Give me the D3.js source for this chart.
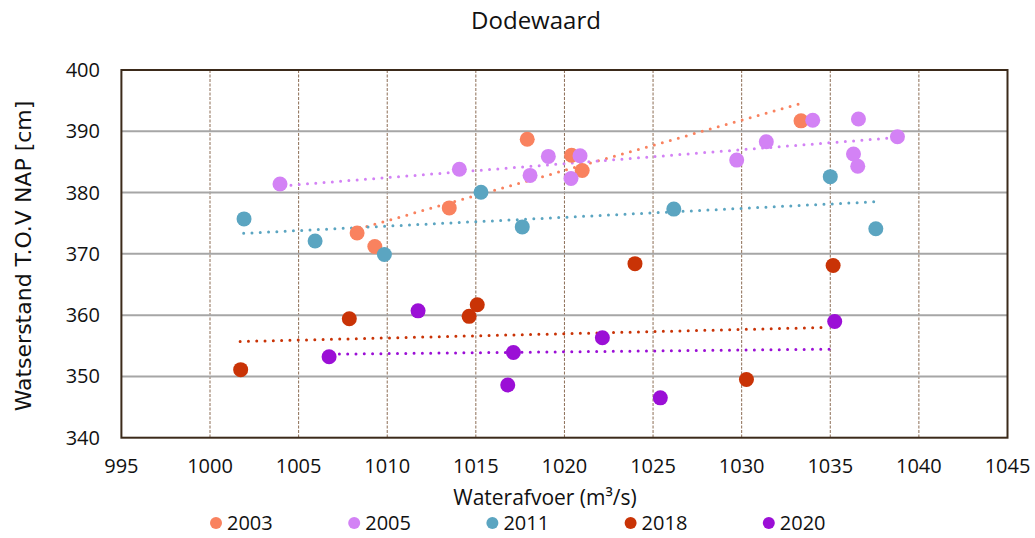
<!DOCTYPE html>
<html>
<head>
<meta charset="utf-8">
<style>
body { margin: 0; background: #fff; }
text { font-family: "Open Sans", "Noto Sans", sans-serif; fill: #111; }
.grid-h line { stroke: #a6a6a6; stroke-width: 2; }
.grid-v line { stroke: #8c6d55; stroke-width: 1; stroke-dasharray: 3 1.5; }
.trend { fill: none; stroke-width: 3; stroke-linecap: round; stroke-dasharray: 0 8.3; }
</style>
</head>
<body>
<svg width="1035" height="538"></svg>
<script src="https://d3js.org/d3.v7.min.js"></script>
<script>
var years = ["2003", "2005", "2011", "2018", "2020"];
var colors = ["#f9825f", "#d382f5", "#5ba5c1", "#c93306", "#9b0fd6"];

// afvoer (x) en waterstand (y) per jaar
var x2003 = [1017.9, 1013.5, 1008.3, 1009.3, 1020.4, 1021.0, 1033.35];
var y2003 = [388.7, 377.5, 373.4, 371.2, 386.1, 383.6, 391.7];
var x2005 = [1003.95, 1014.07, 1018.06, 1019.09, 1020.88, 1020.37, 1029.72, 1031.39, 1034.01, 1036.59, 1036.31, 1036.55, 1038.79];
var y2005 = [381.4, 383.8, 382.8, 385.9, 386.0, 382.3, 385.3, 388.3, 391.8, 392.0, 386.3, 384.3, 389.1];
var x2011 = [1001.92, 1005.93, 1009.84, 1015.29, 1017.62, 1026.17, 1035.0, 1037.57];
var y2011 = [375.7, 372.1, 369.9, 380.05, 374.4, 377.3, 382.6, 374.1];
var x2018 = [1001.73, 1007.86, 1014.62, 1015.08, 1023.98, 1030.27, 1035.16];
var y2018 = [351.1, 359.4, 359.8, 361.7, 368.4, 349.5, 368.1];
var x2020 = [1006.72, 1011.74, 1017.12, 1016.80, 1022.14, 1025.41, 1035.25];
var y2020 = [353.2, 360.7, 353.9, 348.6, 356.3, 346.5, 358.95];

var trendX0 = [1008.4, 1004.1, 1001.9, 1001.7, 1007.3];
var trendY0 = [374.1, 381.1, 373.35, 355.7, 353.65];
var trendX1 = [1033.4, 1038.6, 1037.5, 1034.9, 1035.2];
var trendY1 = [394.6, 388.95, 378.5, 358.0, 354.45];

var xTicks = d3.range(995, 1046, 5);
var yTicks = d3.range(340, 401, 10);

var xs = [x2003, x2005, x2011, x2018, x2020];
var ys = [y2003, y2005, y2011, y2018, y2020];

var svg = d3.select("svg");

var x = d3.scaleLinear().domain([995, 1045]).range([121.4, 1007.5]);
var y = d3.scaleLinear().domain([340, 400]).range([437.7, 70]);

// rasterlijnen
svg.append("g").attr("class", "grid-v")
  .selectAll("line").data(xTicks.slice(1, -1)).enter().append("line")
    .attr("x1", d => x(d)).attr("x2", d => x(d))
    .attr("y1", y(400)).attr("y2", y(340));

svg.append("g").attr("class", "grid-h")
  .selectAll("line").data(yTicks.slice(1, -1)).enter().append("line")
    .attr("x1", x(995)).attr("x2", x(1045))
    .attr("y1", d => y(d)).attr("y2", d => y(d));

svg.append("rect")
  .attr("x", x(995)).attr("y", y(400))
  .attr("width", x(1045) - x(995)).attr("height", y(340) - y(400))
  .attr("fill", "none").attr("stroke", "#3b2a1a").attr("stroke-width", 2);

var line = d3.line().x(d => x(d[0])).y(d => y(d[1]));

years.forEach(function(yr, k) {
  svg.append("path").attr("class", "trend")
    .attr("stroke", colors[k])
    .attr("d", line([[trendX0[k], trendY0[k]], [trendX1[k], trendY1[k]]]));
});

years.forEach(function(yr, k) {
  svg.append("g").selectAll("circle")
    .data(xs[k].map((v, i) => [v, ys[k][i]]))
    .enter().append("circle")
      .attr("cx", d => x(d[0])).attr("cy", d => y(d[1]))
      .attr("r", 7.5).attr("fill", colors[k]);
});

// as-labels
svg.append("g").selectAll("text").data(xTicks).enter().append("text")
  .attr("x", d => x(d)).attr("y", 473)
  .attr("text-anchor", "middle").attr("font-size", 20)
  .text(d => d);

svg.append("g").selectAll("text").data(yTicks).enter().append("text")
  .attr("x", 100).attr("y", d => y(d) + 7)
  .attr("text-anchor", "end").attr("font-size", 20)
  .text(d => d);

svg.append("text")
  .attr("x", 536).attr("y", 29)
  .attr("text-anchor", "middle").attr("font-size", 24)
  .text("Dodewaard");

svg.append("text")
  .attr("x", 545).attr("y", 505)
  .attr("text-anchor", "middle").attr("font-size", 21)
  .text("Waterafvoer (m³/s)");

svg.append("text")
  .attr("transform", "translate(31,256) rotate(-90)")
  .attr("text-anchor", "middle").attr("font-size", 22)
  .style("font-family", "'DejaVu Sans', sans-serif")
  .text("Watserstand T.O.V NAP [cm]");

// legenda
var leg = svg.append("g").selectAll("g").data(years).enter().append("g")
  .attr("transform", (d, i) => "translate(" + (216 + i * 138.2) + ",523)");
leg.append("circle").attr("r", 6).attr("fill", (d, i) => colors[i]);
leg.append("text").attr("x", 11).attr("y", 7).attr("font-size", 20).text(d => d);
</script>
</body>
</html>
